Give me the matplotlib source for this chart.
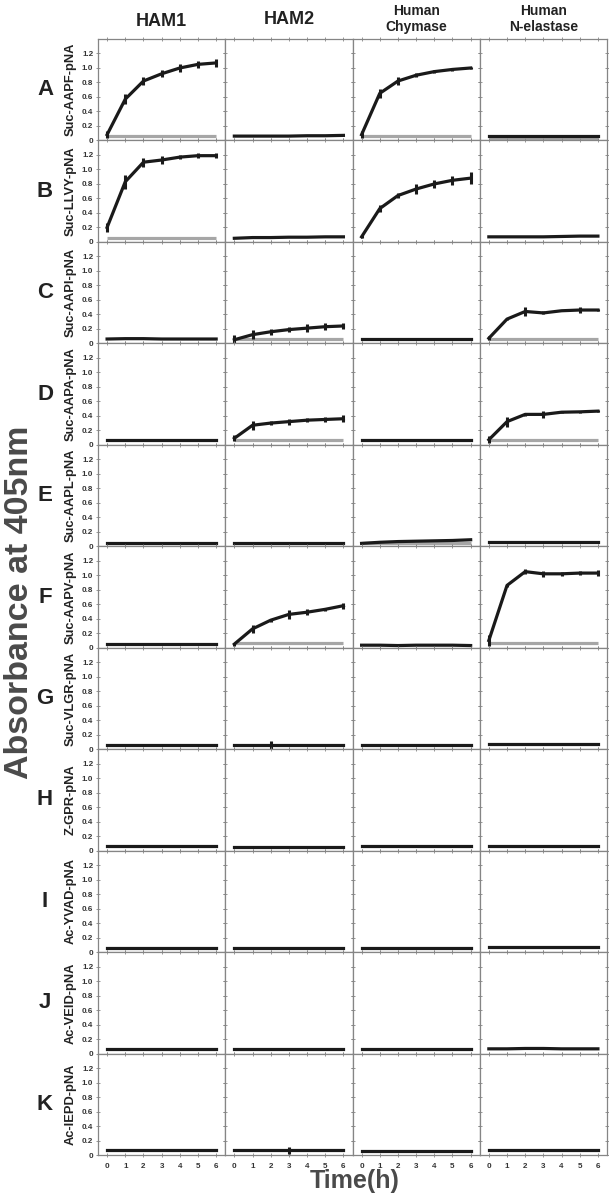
import numpy as np
import matplotlib
matplotlib.use('Agg')
import matplotlib.pyplot as plt

plt.rcParams['font.family'] = ['Liberation Sans', 'DejaVu Sans']
plt.rcParams['font.weight'] = 'bold'

time_h = [0, 1, 2, 3, 4, 5, 6]
enzymes = ['HAM1', 'HAM2', 'Human\nChymase', 'Human\nN-elastase']
row_letters = ['A', 'B', 'C', 'D', 'E', 'F', 'G', 'H', 'I', 'J', 'K']
substrates = ['Suc-AAPF-pNA', 'Suc-LLVY-pNA', 'Suc-AAPI-pNA', 'Suc-AAPA-pNA',
              'Suc-AAPL-pNA', 'Suc-AAPV-pNA', 'Suc-VLGR-pNA', 'Z-GPR-pNA',
              'Ac-YVAD-pNA', 'Ac-VEID-pNA', 'Ac-IEPD-pNA']

# mean absorbance, one list per enzyme (HAM1, HAM2, chymase, N-elastase)
aapf_mean = [[0.08, 0.57, 0.82, 0.92, 1.00, 1.05, 1.07],
             [0.06, 0.06, 0.06, 0.06, 0.065, 0.065, 0.07],
             [0.08, 0.65, 0.82, 0.90, 0.95, 0.98, 1.00],
             [0.06, 0.06, 0.06, 0.06, 0.06, 0.06, 0.06]]
aapf_err = [[0.05, 0.07, 0.05, 0.05, 0.05, 0.05, 0.06],
            [0, 0, 0, 0, 0, 0, 0],
            [0.05, 0.06, 0.05, 0.03, 0.02, 0.02, 0.02],
            [0, 0, 0, 0, 0, 0, 0]]
aapf_ctrl = [0.06, None, 0.06, 0.015]

llvy_mean = [[0.20, 0.83, 1.10, 1.13, 1.17, 1.19, 1.19],
             [0.05, 0.06, 0.06, 0.065, 0.065, 0.07, 0.07],
             [0.07, 0.46, 0.64, 0.73, 0.80, 0.85, 0.88],
             [0.07, 0.07, 0.07, 0.07, 0.075, 0.08, 0.08]]
llvy_err = [[0.06, 0.10, 0.06, 0.05, 0.03, 0.03, 0.03],
            [0, 0, 0, 0, 0, 0, 0],
            [0.02, 0.05, 0.04, 0.07, 0.06, 0.06, 0.08],
            [0, 0, 0, 0, 0, 0, 0]]
llvy_ctrl = [0.06, None, None, None]

aapi_mean = [[0.06, 0.065, 0.065, 0.06, 0.06, 0.06, 0.06],
             [0.05, 0.12, 0.16, 0.19, 0.21, 0.23, 0.24],
             [0.06, 0.06, 0.06, 0.06, 0.06, 0.06, 0.06],
             [0.07, 0.335, 0.44, 0.42, 0.45, 0.46, 0.46]]
aapi_err = [[0, 0, 0, 0, 0, 0, 0],
            [0.06, 0.06, 0.04, 0.04, 0.06, 0.05, 0.04],
            [0, 0, 0, 0, 0, 0, 0],
            [0.03, 0.01, 0.06, 0.02, 0.01, 0.04, 0.02]]
aapi_ctrl = [None, 0.06, None, 0.06]

aapa_mean = [[0.065, 0.065, 0.065, 0.065, 0.065, 0.065, 0.065],
             [0.09, 0.27, 0.30, 0.32, 0.34, 0.35, 0.36],
             [0.06, 0.06, 0.06, 0.06, 0.06, 0.06, 0.06],
             [0.07, 0.32, 0.42, 0.42, 0.45, 0.455, 0.465]]
aapa_err = [[0, 0, 0, 0, 0, 0, 0],
            [0.04, 0.06, 0.03, 0.04, 0.03, 0.04, 0.05],
            [0, 0, 0, 0, 0, 0, 0],
            [0.05, 0.07, 0.02, 0.05, 0.01, 0.01, 0.01]]
aapa_ctrl = [None, 0.06, None, 0.06]

aapl_mean = [[0.05, 0.05, 0.05, 0.05, 0.05, 0.05, 0.05],
             [0.05, 0.05, 0.05, 0.05, 0.05, 0.05, 0.05],
             [0.04, 0.055, 0.065, 0.07, 0.075, 0.08, 0.09],
             [0.055, 0.055, 0.055, 0.055, 0.055, 0.055, 0.055]]
aapl_err = [[0, 0, 0, 0, 0, 0, 0],
            [0, 0, 0, 0, 0, 0.015, 0],
            [0, 0, 0, 0, 0, 0, 0],
            [0, 0, 0, 0, 0, 0, 0]]
aapl_ctrl = [None, None, 0.05, None]

aapv_mean = [[0.05, 0.05, 0.05, 0.05, 0.05, 0.05, 0.05],
             [0.05, 0.26, 0.38, 0.46, 0.49, 0.53, 0.58],
             [0.035, 0.035, 0.03, 0.035, 0.035, 0.035, 0.03],
             [0.10, 0.86, 1.05, 1.02, 1.02, 1.03, 1.03]]
aapv_err = [[0, 0, 0, 0, 0, 0, 0],
            [0.02, 0.06, 0.02, 0.06, 0.04, 0.02, 0.04],
            [0, 0, 0, 0, 0, 0, 0],
            [0.08, 0.02, 0.03, 0.04, 0.03, 0.03, 0.04]]
aapv_ctrl = [None, 0.06, None, 0.06]

vlgr_mean = [[0.056, 0.056, 0.056, 0.056, 0.056, 0.056, 0.056],
             [0.056, 0.056, 0.056, 0.056, 0.056, 0.056, 0.056],
             [0.056, 0.056, 0.056, 0.056, 0.056, 0.056, 0.056],
             [0.065, 0.065, 0.065, 0.065, 0.065, 0.065, 0.065]]
vlgr_err = [[0, 0, 0, 0, 0, 0, 0],
            [0, 0, 0.06, 0, 0, 0, 0],
            [0, 0, 0, 0, 0, 0, 0],
            [0, 0, 0, 0, 0, 0, 0]]

gpr_mean = [[0.065, 0.065, 0.065, 0.065, 0.065, 0.065, 0.065],
            [0.056, 0.056, 0.056, 0.056, 0.056, 0.056, 0.056],
            [0.065, 0.065, 0.065, 0.065, 0.065, 0.065, 0.065],
            [0.065, 0.065, 0.065, 0.065, 0.065, 0.065, 0.065]]

yvad_mean = [[0.05, 0.05, 0.05, 0.05, 0.05, 0.05, 0.05],
             [0.055, 0.055, 0.055, 0.055, 0.055, 0.055, 0.055],
             [0.05, 0.05, 0.05, 0.05, 0.05, 0.05, 0.05],
             [0.065, 0.065, 0.065, 0.065, 0.065, 0.065, 0.065]]

veid_mean = [[0.056, 0.056, 0.056, 0.056, 0.056, 0.056, 0.056],
             [0.06, 0.06, 0.06, 0.06, 0.06, 0.06, 0.06],
             [0.056, 0.056, 0.056, 0.056, 0.056, 0.056, 0.056],
             [0.065, 0.065, 0.07, 0.07, 0.065, 0.065, 0.065]]

iepd_mean = [[0.065, 0.065, 0.065, 0.065, 0.065, 0.065, 0.065],
             [0.065, 0.065, 0.065, 0.065, 0.065, 0.065, 0.065],
             [0.06, 0.06, 0.06, 0.06, 0.06, 0.06, 0.06],
             [0.075, 0.075, 0.075, 0.075, 0.075, 0.075, 0.075]]
iepd_err = [[0, 0, 0, 0, 0, 0, 0],
            [0, 0, 0, 0.05, 0, 0, 0],
            [0, 0, 0, 0, 0, 0, 0],
            [0, 0, 0, 0, 0, 0, 0]]

no_err = [[0, 0, 0, 0, 0, 0, 0]] * 4
no_ctrl = [None, None, None, None]

all_mean = [aapf_mean, llvy_mean, aapi_mean, aapa_mean, aapl_mean, aapv_mean,
            vlgr_mean, gpr_mean, yvad_mean, veid_mean, iepd_mean]
all_err = [aapf_err, llvy_err, aapi_err, aapa_err, aapl_err, aapv_err,
           vlgr_err, no_err, no_err, no_err, iepd_err]
all_ctrl = [aapf_ctrl, llvy_ctrl, aapi_ctrl, aapa_ctrl, aapl_ctrl, aapv_ctrl,
            no_ctrl, no_ctrl, no_ctrl, no_ctrl, no_ctrl]

W, H = 609, 1199
fig, axes = plt.subplots(11, 4, figsize=(W / 100, H / 100), dpi=100)
fig.subplots_adjust(left=98 / W, right=607 / W, top=1 - 39 / H, bottom=44 / H,
                    hspace=0, wspace=0)

spine_col = '#858585'
for r in range(11):
    for c in range(4):
        ax = axes[r, c]
        ctrl = all_ctrl[r][c]
        if ctrl is not None:
            ax.plot([time_h[0], time_h[-1]], [ctrl, ctrl], color='#a6a6a6', lw=2.3,
                    solid_capstyle='butt', zorder=2)
        ax.errorbar(time_h, all_mean[r][c], yerr=all_err[r][c], color='#1a1a1a',
                    lw=2.3, elinewidth=2.2, capsize=0, zorder=3)
        ax.set_xlim(-0.5, 6.5)
        ax.set_ylim(0, 1.4)
        ax.set_xticks(time_h)
        ax.set_yticks([0, 0.2, 0.4, 0.6, 0.8, 1.0, 1.2])
        ax.tick_params(direction='inout', length=3, width=0.6, color=spine_col,
                       top=True, right=True, labelsize=5.8, pad=2,
                       labelcolor='#333333')
        for s in ax.spines.values():
            s.set_color(spine_col)
            s.set_linewidth(0.9)
        if c == 0:
            ax.set_yticklabels(['0', '0.2', '0.4', '0.6', '0.8', '1.0', '1.2'],
                               fontweight='bold')
        else:
            ax.set_yticklabels([])
        if r == 10:
            ax.set_xticklabels([str(t) for t in time_h], fontweight='bold')
            ax.tick_params(axis='x', pad=4)
        else:
            ax.set_xticklabels([])

    pos = axes[r, 0].get_position()
    yc = (pos.y0 + pos.y1) / 2
    fig.text(45 / W, yc, row_letters[r], fontsize=16, fontweight='bold',
             ha='center', va='center', color='#222222')
    fig.text(71 / W, yc, substrates[r], fontsize=9.3, fontweight='bold',
             ha='center', va='center', rotation=90, color='#222222')

title_y = [1 - 22 / H, 1 - 20 / H, 1 - 19 / H, 1 - 19 / H]
title_fs = [13, 13, 10, 10]
for c in range(4):
    pos = axes[0, c].get_position()
    fig.text((pos.x0 + pos.x1) / 2, title_y[c], enzymes[c], fontsize=title_fs[c],
             fontweight='bold', ha='center', va='center', linespacing=1.15,
             color='#222222')

fig.text(20 / W, 0.5 - 3 / H, 'Absorbance at 405nm', fontsize=24.5, fontweight='bold',
         rotation=90, ha='center', va='center', color='#4a4a4a')
fig.text(355 / W, 1 - 1181 / H, 'Time(h)', fontsize=18, fontweight='bold',
         ha='center', va='center', color='#4a4a4a')

fig.savefig('out.png', dpi=100)
